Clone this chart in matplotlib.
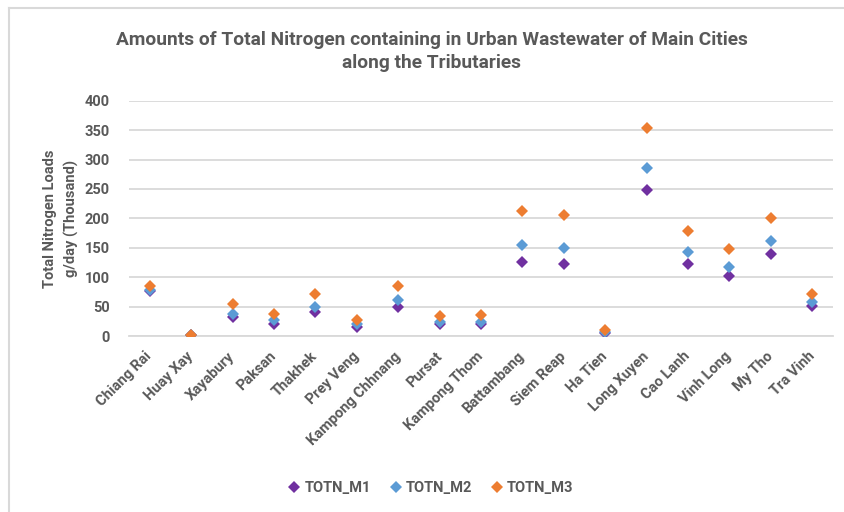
import matplotlib
matplotlib.use('Agg')
import matplotlib.pyplot as plt
from matplotlib.lines import Line2D

cities = ['Chiang Rai', 'Huay Xay', 'Xayabury', 'Paksan', 'Thakhek', 'Prey Veng',
          'Kampong Chhnang', 'Pursat', 'Kampong Thom', 'Battambang', 'Siem Reap',
          'Ha Tien', 'Long Xuyen', 'Cao Lanh', 'Vinh Long', 'My Tho', 'Tra Vinh']
totn_m1 = [76, 1, 32, 21, 40, 15, 49, 20, 20, 125, 122, 5, 248, 123, 102, 140, 51]
totn_m2 = [79, 1, 37, 27, 50, 20, 62, 23, 24, 155, 150, 7, 286, 142, 118, 162, 58]
totn_m3 = [85, 2, 54, 38, 71, 27, 85, 34, 35, 213, 205, 10, 354, 178, 148, 200, 72]
series_names = ['TOTN_M1', 'TOTN_M2', 'TOTN_M3']
colors = ['#7030A0', '#5B9BD5', '#ED7D31']
yticks = [0, 50, 100, 150, 200, 250, 300, 350, 400]

plt.rcParams['font.family'] = ['Roboto', 'DejaVu Sans']
txt = '#595959'

fig = plt.figure(figsize=(8.45, 5.12), dpi=100)
ax = fig.add_axes([0.1527, 0.3437, 0.833, 0.4596])

x = list(range(len(cities)))
for vals, c, name in zip([totn_m1, totn_m2, totn_m3], colors, series_names):
    ax.plot(x, vals, linestyle='none', marker='D', markersize=6, color=c,
            markeredgewidth=0, label=name, zorder=3)

ax.set_xlim(-0.5, len(cities) - 0.5)
ax.set_ylim(0, 400)
ax.set_yticks(yticks)
ax.set_xticks(x)
ax.set_xticklabels(cities, rotation=45, ha='right', va='center', rotation_mode='anchor',
                   fontsize=10.5, fontweight='bold', color=txt)
ax.tick_params(axis='x', length=0, pad=13)
ax.tick_params(axis='y', length=0, pad=14, labelsize=10.5, labelcolor=txt)
for lab in ax.get_yticklabels():
    lab.set_fontweight('bold')
ax.grid(axis='y', color='#D9D9D9', linewidth=1.3)
ax.set_axisbelow(True)
for s in ['top', 'right', 'left']:
    ax.spines[s].set_visible(False)
ax.spines['bottom'].set_color('#D9D9D9')
ax.spines['bottom'].set_linewidth(1.3)

ax.set_ylabel('Total Nitrogen Loads\ng/day (Thousand)', fontsize=10.5, fontweight='bold',
              color=txt, labelpad=4, linespacing=1.55)

fig.text(0.511, 0.9, 'Amounts of Total Nitrogen containing in Urban Wastewater of Main Cities\nalong the Tributaries',
         ha='center', va='center', fontsize=13.8, fontweight='bold', color=txt, linespacing=1.35)

handles = [Line2D([], [], linestyle='none', marker='D', markersize=6, color=c, markeredgewidth=0)
           for c in colors]
fig.legend(handles, series_names, loc='center', bbox_to_anchor=(0.51, 0.047), ncol=3, frameon=False,
           prop={'size': 10.5, 'weight': 'bold'}, labelcolor=txt, handlelength=0.8,
           handletextpad=0.3, columnspacing=1.3)

# chart border (left and top edges visible)
fig.add_artist(Line2D([9.5 / 845, 9.5 / 845], [0, 1 - 7.5 / 512], color='#D9D9D9', linewidth=1.5,
                      transform=fig.transFigure))
fig.add_artist(Line2D([9.5 / 845, 1], [1 - 7.5 / 512, 1 - 7.5 / 512], color='#D9D9D9', linewidth=1.5,
                      transform=fig.transFigure))

fig.savefig('out.png', dpi=100)
